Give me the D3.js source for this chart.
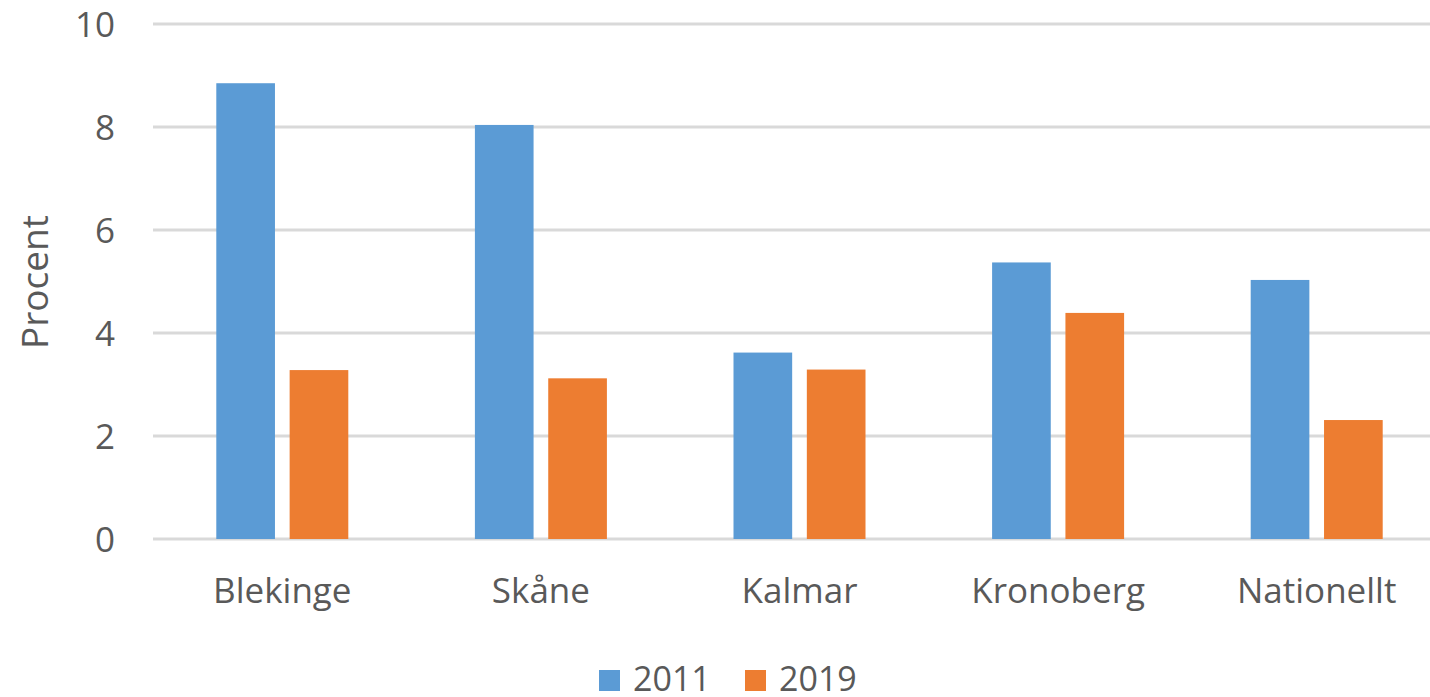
<!DOCTYPE html>
<html>
<head>
<meta charset="utf-8">
<script src="https://cdn.jsdelivr.net/npm/d3@7"></script>
<style>
  html, body { margin: 0; padding: 0; background: #fff; overflow: hidden; }
  svg text { font-family: "Open Sans", sans-serif; fill: #595959; }
</style>
</head>
<body>
<svg id="chart" width="1430" height="697"></svg>
<script>
// chart data
const categories = ["Blekinge", "Skåne", "Kalmar", "Kronoberg", "Nationellt"];
const seriesNames = ["2011", "2019"];
const values2011 = [8.85, 8.04, 3.62, 5.37, 5.03];
const values2019 = [3.28, 3.12, 3.29, 4.39, 2.31];
const yTicks = [0, 2, 4, 6, 8, 10];
const colors = ["#5b9bd5", "#ed7d31"];

const width = 1430, height = 697;
// the plot area runs a bit past the right edge, as in the original crop
const margin = {top: 24, right: -16, bottom: 158, left: 153};

const svg = d3.select("#chart");

const x0 = d3.scaleBand()
  .domain(categories)
  .range([margin.left, width - margin.right]);

// bars within a group, relative to band centre
const x1 = d3.scaleBand()
  .domain(seriesNames)
  .range([-66, 66])
  .paddingInner(0.2);

const y = d3.scaleLinear()
  .domain([0, 10])
  .range([height - margin.bottom, margin.top]);

// gridlines
svg.append("g")
  .selectAll("line")
  .data(yTicks)
  .enter()
  .append("line")
  .attr("x1", margin.left)
  .attr("x2", width - margin.right)
  .attr("y1", d => y(d))
  .attr("y2", d => y(d))
  .attr("stroke", "#d9d9d9")
  .attr("stroke-width", 3);

// y tick labels
const yAxis = svg.append("g")
  .attr("transform", "translate(" + (margin.left - 38) + ",0)")
  .call(d3.axisLeft(y).tickValues(yTicks).tickSize(0).tickPadding(0));
yAxis.select(".domain").remove();
yAxis.selectAll("text")
  .style("font-size", "35px")
  .attr("fill", "#595959")
  .attr("dy", "0.36em");

// bars
const rows = categories.map((c, i) => ({cat: c, vals: [values2011[i], values2019[i]]}));

const groups = svg.append("g")
  .selectAll("g")
  .data(rows)
  .enter()
  .append("g")
  .attr("transform", d => "translate(" + (x0(d.cat) + x0.bandwidth() / 2) + ",0)");

groups.selectAll("rect")
  .data(d => d.vals.map((v, j) => ({s: seriesNames[j], v: v, j: j})))
  .enter()
  .append("rect")
  .attr("x", d => x1(d.s))
  .attr("width", x1.bandwidth())
  .attr("y", d => y(d.v))
  .attr("height", d => y(0) - y(d.v))
  .attr("fill", d => colors[d.j]);

// x axis labels
const xAxis = svg.append("g")
  .attr("transform", "translate(0," + y(0) + ")")
  .call(d3.axisBottom(x0).tickSize(0).tickPadding(0));
xAxis.select(".domain").remove();
xAxis.selectAll("text")
  .style("font-size", "35px")
  .attr("fill", "#595959")
  .attr("dy", "64px");

// y axis title
svg.append("text")
  .attr("transform", "translate(48,282) rotate(-90)")
  .attr("text-anchor", "middle")
  .style("font-size", "37px")
  .text("Procent");

// legend
const legendX = [599, 745];
const legend = svg.append("g")
  .selectAll("g")
  .data(seriesNames)
  .enter()
  .append("g")
  .attr("transform", (d, i) => "translate(" + legendX[i] + ",670)");

legend.append("rect")
  .attr("width", 21)
  .attr("height", 21)
  .attr("fill", (d, i) => colors[i]);

legend.append("text")
  .attr("x", 34)
  .attr("y", 21)
  .style("font-size", "34px")
  .text(d => d);
</script>
</body>
</html>
